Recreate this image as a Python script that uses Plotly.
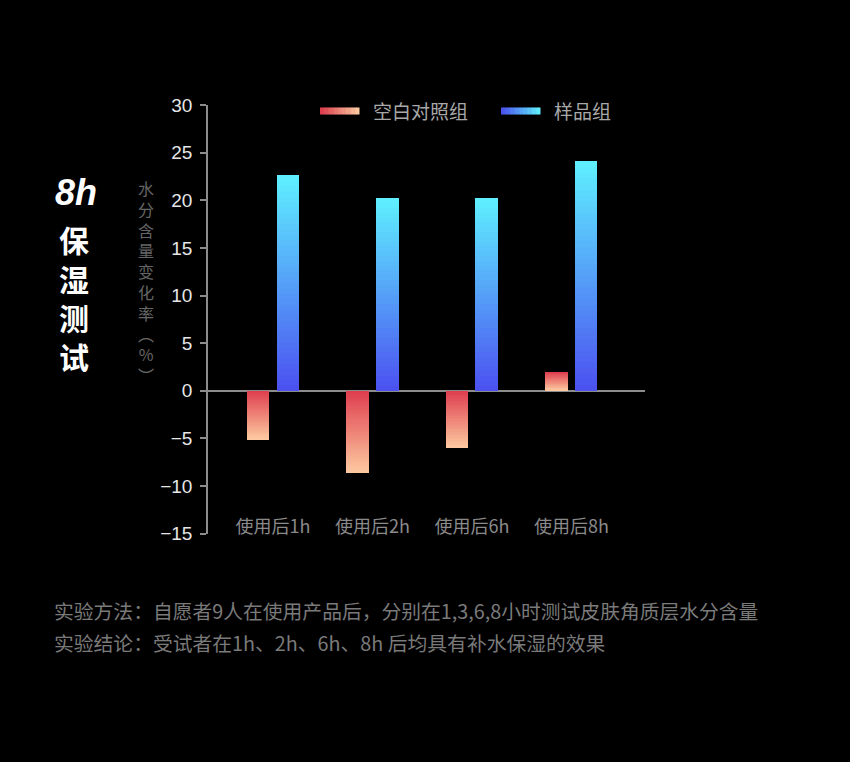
import plotly.graph_objects as go

# data
categories = ["使用后1h", "使用后2h", "使用后6h", "使用后8h"]
control_values = [-5.1, -8.6, -6.0, 1.9]
sample_values = [22.6, 20.2, 20.2, 24.1]
series_names = ["空白对照组", "样品组"]
y_ticks = [-15, -10, -5, 0, 5, 10, 15, 20, 25, 30]

FONT = "Noto Sans CJK SC"
W, H = 850, 762
L, R, T, B = 208, 205, 105, 228

# gradient ends (top colour, bottom colour)
RED_TOP, RED_BOTTOM = (222, 62, 78), (253, 200, 160)
BLUE_TOP, BLUE_BOTTOM = (95, 238, 255), (75, 82, 240)
N_SLICES = 40


def mix(c1, c2, t):
    return "rgb(%d,%d,%d)" % tuple(round(a + (b - a) * t) for a, b in zip(c1, c2))


def px_x(px):
    return (px - L) / (W - L - R)


def px_y(py):
    return (H - B - py) / (H - T - B)


def add_gradient_bars(fig, values, top_c, bottom_c, offset, width):
    """Each bar is split into thin stacked slices so it can carry a vertical gradient."""
    tops = [max(v, 0) for v in values]
    heights = [abs(v) for v in values]
    for k in range(N_SLICES):
        h = [hh / N_SLICES for hh in heights]
        base = [t - (k + 1) * hs for t, hs in zip(tops, h)]
        fig.add_trace(go.Bar(
            x=categories, y=[hs * 1.02 for hs in h], base=base,
            offset=offset, width=width,
            marker=dict(color=mix(top_c, bottom_c, k / (N_SLICES - 1)), line_width=0),
            showlegend=False, hoverinfo="skip",
        ))


fig = go.Figure()
add_gradient_bars(fig, control_values, RED_TOP, RED_BOTTOM, -0.262, 0.226)
add_gradient_bars(fig, sample_values, BLUE_TOP, BLUE_BOTTOM, 0.036, 0.226)

shapes = []
annotations = []

# legend swatches with horizontal gradients
def swatch(x0, x1, yc, c_left, c_right, n=16):
    step = (x1 - x0) / n
    for i in range(n):
        shapes.append(dict(
            type="rect", xref="paper", yref="paper",
            x0=px_x(x0 + i * step), x1=px_x(x0 + (i + 1) * step + 0.5),
            y0=px_y(yc + 3.5), y1=px_y(yc - 3.5),
            fillcolor=mix(c_left, c_right, i / (n - 1)), line_width=0, layer="above",
        ))

swatch(320, 359, 111, RED_TOP, RED_BOTTOM)
swatch(501, 540, 111, BLUE_BOTTOM, BLUE_TOP)
annotations.append(dict(text=series_names[0], x=px_x(371), y=px_y(111), xanchor="left", yanchor="middle",
                        font=dict(size=19, color="#a8a8a8", family=FONT)))
annotations.append(dict(text=series_names[1], x=px_x(552), y=px_y(111), xanchor="left", yanchor="middle",
                        font=dict(size=19, color="#a8a8a8", family=FONT)))

# left title
annotations.append(dict(text="<b><i>8h</i></b>", x=px_x(76), y=px_y(192), xanchor="center", yanchor="middle",
                        font=dict(size=36, color="white", family="Liberation Sans")))
annotations.append(dict(text="<b>保<br>湿<br>测<br>试</b>", x=px_x(74), y=px_y(297), xanchor="center",
                        yanchor="middle", font=dict(size=30, color="white", family=FONT)))

# vertical y-axis title
annotations.append(dict(text="<br>".join("水分含量变化率︵%︶"), x=px_x(146), y=px_y(281),
                        xanchor="center", yanchor="middle",
                        font=dict(size=16, color="#666666", family=FONT)))

# notes under the chart
annotations.append(dict(text="实验方法：自愿者9人在使用产品后，分别在1,3,6,8小时测试皮肤角质层水分含量",
                        x=px_x(52), y=px_y(610), xanchor="left", yanchor="middle",
                        font=dict(size=19.8, color="#7a7a7a", family=FONT)))
annotations.append(dict(text="实验结论：受试者在1h、2h、6h、8h 后均具有补水保湿的效果",
                        x=px_x(52), y=px_y(642), xanchor="left", yanchor="middle",
                        font=dict(size=19.8, color="#7a7a7a", family=FONT)))

for a in annotations:
    a.update(xref="paper", yref="paper", showarrow=False)

fig.update_layout(
    width=W, height=H,
    margin=dict(l=L, r=R, t=T, b=B),
    paper_bgcolor="black", plot_bgcolor="black",
    barmode="overlay", bargap=0,
    showlegend=False,
    shapes=shapes, annotations=annotations,
)
# category labels sit just above the bottom of the value axis
fig.update_xaxes(
    type="category", range=[-0.653, 3.74],
    anchor="free", position=px_y(514),
    showgrid=False, showline=False, ticks="",
    tickfont=dict(size=18, color="#8a8a8a", family=FONT),
)
fig.update_yaxes(
    range=[-15.03, 30], tickvals=y_ticks,
    showgrid=False, zeroline=True, zerolinecolor="#8c8c8c", zerolinewidth=1.5,
    showline=True, linecolor="#8c8c8c", linewidth=1.5,
    ticks="outside", ticklen=6, tickcolor="#8c8c8c", tickwidth=1.5,
    ticklabelstandoff=4,
    tickfont=dict(size=19, color="#e6e6e6", family="Liberation Sans"),
)

fig.write_html("out.html", config={"displayModeBar": False},
               post_script="document.body.style.margin='0';")
